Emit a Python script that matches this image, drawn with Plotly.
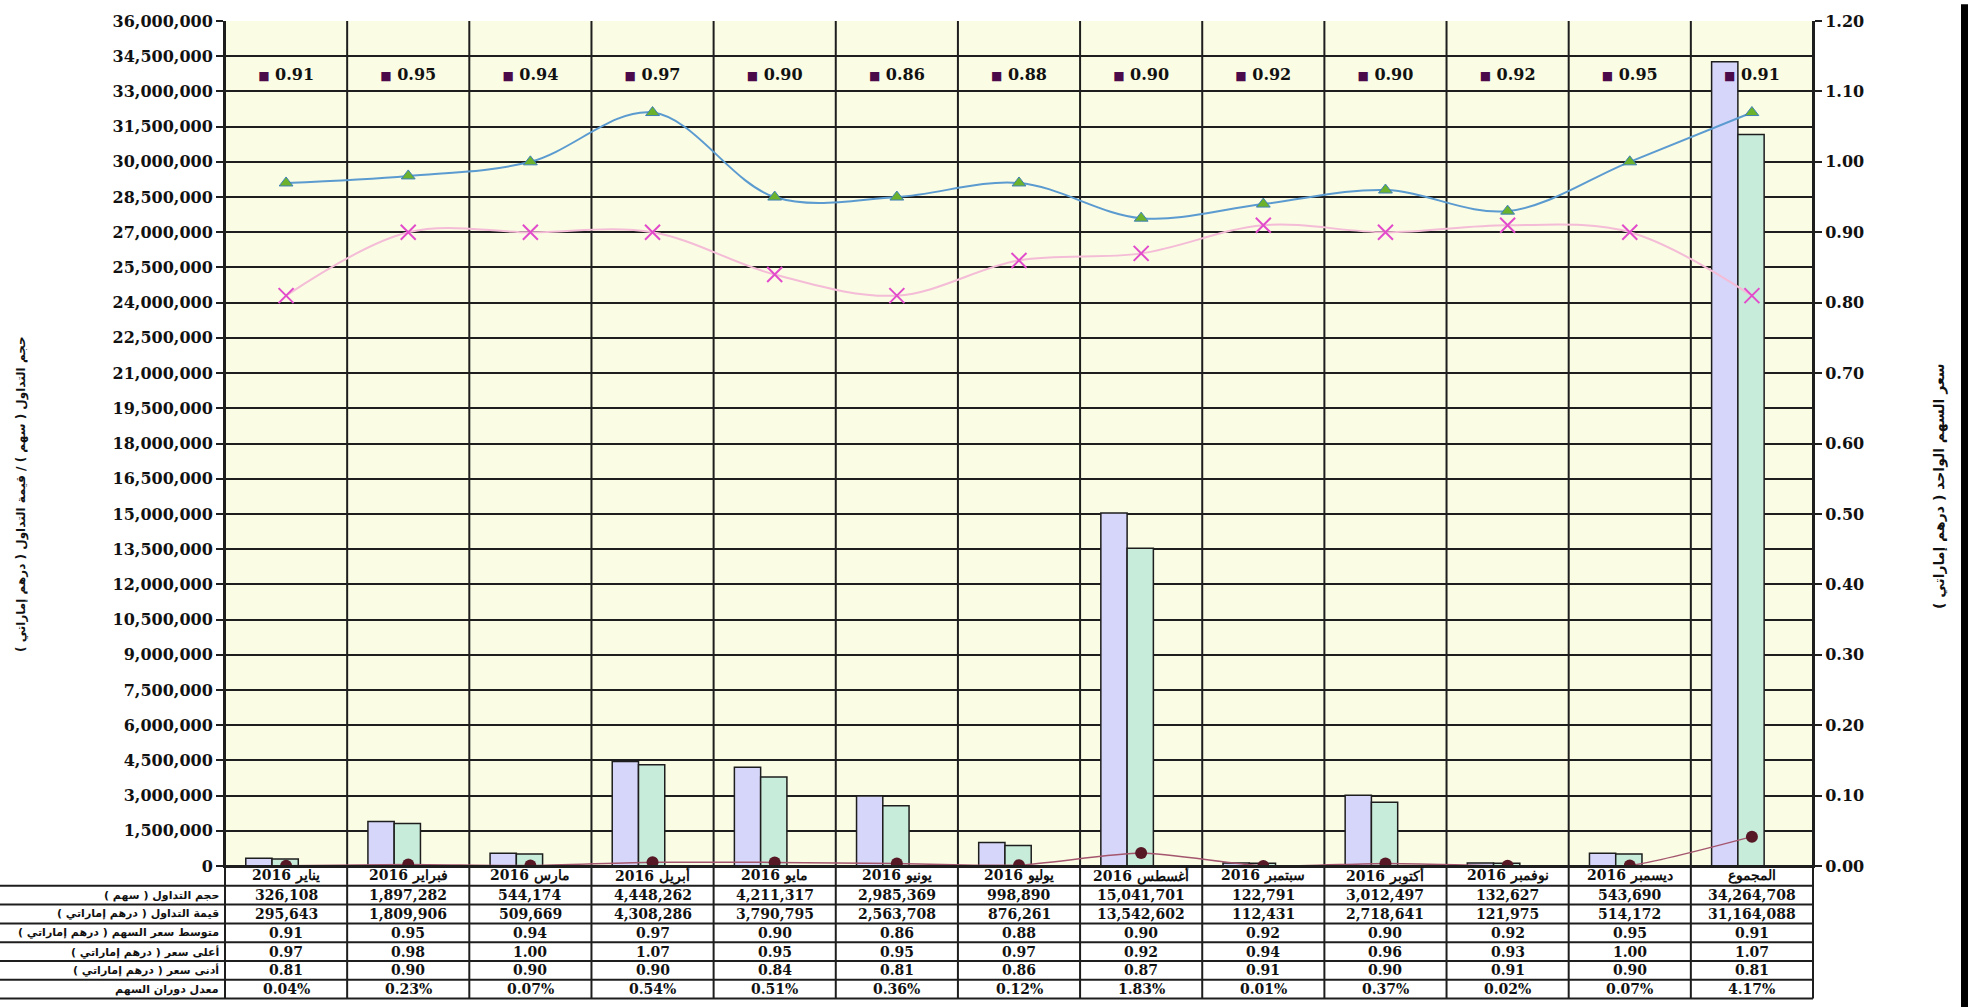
import plotly.graph_objects as go

# ---------------- data ----------------
YEAR = "2016"
MONTHS = ["يناير", "فبراير", "مارس", "أبريل", "مايو", "يونيو",
          "يوليو", "أغسطس", "سبتمبر", "أكتوبر", "نوفمبر", "ديسمبر"]
TOTAL_LABEL = "المجموع"
CATEGORIES = [f"{YEAR} {m}" for m in MONTHS] + [TOTAL_LABEL]

VOLUME = [326108, 1897282, 544174, 4448262, 4211317, 2985369, 998890,
          15041701, 122791, 3012497, 132627, 543690, 34264708]
VALUE = [295643, 1809906, 509669, 4308286, 3790795, 2563708, 876261,
         13542602, 112431, 2718641, 121975, 514172, 31164088]
AVG = [0.91, 0.95, 0.94, 0.97, 0.90, 0.86, 0.88, 0.90, 0.92, 0.90, 0.92, 0.95, 0.91]
HIGH = [0.97, 0.98, 1.00, 1.07, 0.95, 0.95, 0.97, 0.92, 0.94, 0.96, 0.93, 1.00, 1.07]
LOW = [0.81, 0.90, 0.90, 0.90, 0.84, 0.81, 0.86, 0.87, 0.91, 0.90, 0.91, 0.90, 0.81]
TURNOVER_PCT = [0.04, 0.23, 0.07, 0.54, 0.51, 0.36, 0.12, 1.83, 0.01, 0.37, 0.02, 0.07, 4.17]

ROW_LABELS = ["حجم التداول ( سهم )",
              "قيمة التداول ( درهم إماراتي )",
              "متوسط سعر السهم ( درهم إماراتي )",
              "أعلى سعر ( درهم إماراتي )",
              "أدنى سعر ( درهم إماراتي )",
              "معدل دوران السهم"]
LEFT_TITLE = "حجم التداول ( سهم ) / قيمة التداول ( درهم إماراتي )"
RIGHT_TITLE = "سعر السهم الواحد ( درهم إماراتي )"

# ---------------- layout constants ----------------
W, H = 1968, 1007
PL, PR, PT, PB = 225, 1813, 12, 866
TABLE_Y = [866, 886, 905, 924, 943, 962, 981, 1000]
ROW_LABEL_RIGHT = 221
RLM = "\u200f"

SERIF = "DejaVu Serif"
SANS = "DejaVu Sans"
BG = "#FAFCE4"
GRID = "#1e1e1e"


def px_x(px):
    return (px - PL) / (PR - PL)


def px_y(py):
    return (PB - py) / (PB - PT)


fig = go.Figure()

fig.add_trace(go.Bar(x=CATEGORIES, y=VOLUME, width=0.215, offset=-0.33,
                     marker=dict(color="#D6D6FA", line=dict(color="#1e1e1e", width=1.5)),
                     name=ROW_LABELS[0]))
fig.add_trace(go.Bar(x=CATEGORIES, y=VALUE, width=0.215, offset=-0.115,
                     marker=dict(color="#C8ECDA", line=dict(color="#1e1e1e", width=1.5)),
                     name=ROW_LABELS[1]))

fig.add_trace(go.Scatter(x=CATEGORIES, y=[p / 100 for p in TURNOVER_PCT], yaxis="y2",
                         mode="lines+markers", line=dict(color="#A4566E", width=1.5, shape="spline", smoothing=0.6),
                         marker=dict(symbol="circle", size=12, color="#561825"),
                         name=ROW_LABELS[5]))
fig.add_trace(go.Scatter(x=CATEGORIES, y=LOW, yaxis="y2",
                         mode="lines+markers", line=dict(color="#F4BCD6", width=2, shape="spline", smoothing=1),
                         marker=dict(symbol="x-thin", size=15, line=dict(color="#E24CCB", width=2)),
                         name=ROW_LABELS[4]))
fig.add_trace(go.Scatter(x=CATEGORIES, y=HIGH, yaxis="y2",
                         mode="lines+markers", line=dict(color="#5B9BD0", width=2, shape="spline", smoothing=1),
                         marker=dict(symbol="triangle-up", size=12, color="#6CB22C",
                                     line=dict(color="#3F82B8", width=1)),
                         name=ROW_LABELS[3]))

AVG_LABEL_Y = 1.122
fig.add_trace(go.Scatter(x=CATEGORIES, y=[AVG_LABEL_Y] * len(AVG), yaxis="y2", mode="text",
                         text=[f"<span style='color:#4B0B4B;font-size:12px'>■</span> {v:.2f}" for v in AVG],
                         textposition="middle center",
                         textfont=dict(family=SERIF, size=16, color="#111", weight="bold"),
                         name=ROW_LABELS[2]))

shapes = []
n = len(CATEGORIES)
for i in range(n + 1):
    shapes.append(dict(type="line", xref="paper", yref="paper", x0=i / n, x1=i / n,
                       y0=px_y(TABLE_Y[-1]), y1=1, line=dict(color=GRID, width=2), layer="below"))
for k, yy in enumerate(TABLE_Y):
    x0 = 0 if k == 0 else px_x(-10)
    shapes.append(dict(type="line", xref="paper", yref="paper", x0=x0, x1=1,
                       y0=px_y(yy), y1=px_y(yy), line=dict(color=GRID, width=2)))
shapes.append(dict(type="rect", xref="paper", yref="paper", x0=px_x(1961), x1=px_x(1972),
                   y0=px_y(H + 5), y1=px_y(-5), fillcolor="#000", line=dict(width=0)))

annotations = []
rows = [
    [f"{v:,}" for v in VOLUME],
    [f"{v:,}" for v in VALUE],
    [f"{v:.2f}" for v in AVG],
    [f"{v:.2f}" for v in HIGH],
    [f"{v:.2f}" for v in LOW],
    [f"{v:.2f}%" for v in TURNOVER_PCT],
]
cell_font = dict(family=SERIF, size=14, color="#111", weight="bold")
for i, cat in enumerate(CATEGORIES):
    annotations.append(dict(x=cat, xref="x", y=px_y((TABLE_Y[0] + TABLE_Y[1]) / 2), yref="paper",
                            xanchor="center", yanchor="middle",
                            text=cat, showarrow=False, font=dict(family=SERIF, size=14, color="#111", weight="bold")))
    for r, row in enumerate(rows):
        yc = (TABLE_Y[r + 1] + TABLE_Y[r + 2]) / 2
        annotations.append(dict(x=cat, xref="x", y=px_y(yc), yref="paper", text=row[i],
                                xanchor="center", yanchor="middle",
                                showarrow=False, font=cell_font))
for r, lab in enumerate(ROW_LABELS):
    yc = (TABLE_Y[r + 1] + TABLE_Y[r + 2]) / 2
    annotations.append(dict(x=px_x(ROW_LABEL_RIGHT), xref="paper", xanchor="right",
                            y=px_y(yc), yref="paper", yanchor="middle", text=RLM + lab + RLM, showarrow=False,
                            font=dict(family=SANS, size=11, color="#111", weight="bold")))

annotations.append(dict(x=px_x(22), xref="paper", xanchor="center", y=px_y(490), yref="paper",
                        yanchor="middle", textangle=-90,
                        text=RLM + LEFT_TITLE + RLM, showarrow=False,
                        font=dict(family=SANS, size=12, color="#111", weight="bold")))
annotations.append(dict(x=px_x(1939), xref="paper", xanchor="center", y=px_y(482), yref="paper",
                        yanchor="middle", textangle=-90,
                        text=RLM + RIGHT_TITLE + RLM, showarrow=False,
                        font=dict(family=SANS, size=14, color="#111", weight="bold")))

tickfont = dict(family=SERIF, size=16, color="#111", weight="bold")
fig.update_layout(
    width=W, height=H,
    margin=dict(l=PL, r=W - PR, t=PT, b=H - PB, pad=0),
    paper_bgcolor="white", plot_bgcolor=BG,
    barmode="overlay", showlegend=False,
    xaxis=dict(type="category", range=[-0.5, n - 0.5], showticklabels=False, showgrid=False,
               zeroline=False, showline=True, linecolor=GRID, linewidth=2, ticks=""),
    yaxis=dict(range=[0, 36e6], dtick=1.5e6, tick0=0, tickformat=",d", showgrid=True,
               gridcolor=GRID, gridwidth=1.5, zeroline=False, showline=True, linecolor=GRID,
               linewidth=2, ticks="outside", ticklen=7, tickcolor=GRID, tickwidth=1.5, tickfont=tickfont),
    yaxis2=dict(range=[0, 1.2], dtick=0.1, tick0=0, tickformat=".2f", overlaying="y", side="right",
                showgrid=False, zeroline=False, showline=True, linecolor=GRID, linewidth=2,
                ticks="outside", ticklen=7, tickcolor=GRID, tickwidth=1.5, tickfont=tickfont),
    shapes=shapes, annotations=annotations,
)

fig.write_html("out.html")
